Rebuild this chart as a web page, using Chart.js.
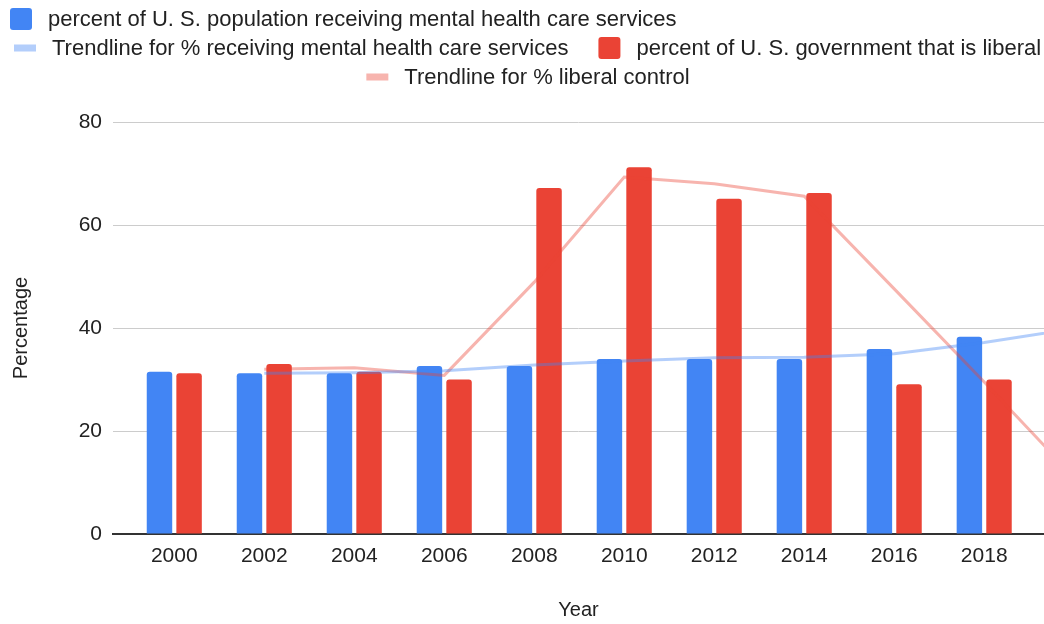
<!DOCTYPE html>
<html>
<head>
<meta charset="utf-8">
<script src="https://cdn.jsdelivr.net/npm/chart.js@4.4.1/dist/chart.umd.min.js"></script>
<style>
  html, body { margin: 0; padding: 0; background: #fff; overflow: hidden; }
  #wrap { width: 1044px; height: 624px; position: relative; }
</style>
</head>
<body>
<div id="wrap"><canvas id="chart"></canvas></div>
<script>
// values
const years = [2000, 2002, 2004, 2006, 2008, 2010, 2012, 2014, 2016, 2018];
const mentalHealthPct = [31.5, 31.2, 31.2, 32.6, 32.6, 34.0, 34.0, 34.0, 35.9, 38.3];
const liberalPct = [31.2, 33.0, 31.5, 30.0, 67.2, 71.2, 65.1, 66.2, 29.1, 30.0];

// trendlines run one step past the last year (cut off at the right edge)
const trendYears = [2002, 2004, 2006, 2008, 2010, 2012, 2014, 2016, 2018, 2020];
const mentalHealthTrend = [31.2, 31.3, 31.7, 32.8, 33.6, 34.2, 34.3, 35.0, 37.2, 39.9];
const liberalTrend = [32.0, 32.3, 30.8, 48.9, 69.3, 68.0, 65.6, 47.6, 29.5, 11.0];

const yTicks = [0, 20, 40, 60, 80];

const FONT = '"Liberation Sans", Arial, sans-serif';
Chart.defaults.font.family = FONT;
Chart.defaults.font.size = 20;
Chart.defaults.color = '#222';

const pts = (xs, ys) => xs.map((x, i) => ({ x: x, y: ys[i] }));

// Google-Sheets style legend: wrapped rows, last row centred
const legendRows = [[0], [1, 2], [3]];
const legendRowY = [19, 48, 77];
const legendRowX = [10, 14, null];

const sheetLegend = {
  id: 'sheetLegend',
  afterDraw(chart) {
    const ctx = chart.ctx;
    const sets = chart.data.datasets;
    ctx.save();
    ctx.font = '22px ' + FONT;
    ctx.textBaseline = 'middle';
    legendRows.forEach((row, r) => {
      const widths = row.map(i => 38 + ctx.measureText(sets[i].label).width);
      const total = widths.reduce((a, b) => a + b, 0) + 30 * (row.length - 1);
      let x = legendRowX[r] !== null ? legendRowX[r] : (chart.width - total) / 2 + 6;
      const y = legendRowY[r];
      row.forEach((i, k) => {
        const ds = sets[i];
        if (ds.type === 'line') {
          ctx.fillStyle = ds.borderColor;
          ctx.fillRect(x, y - 3.5, 22, 7);
        } else {
          ctx.fillStyle = ds.backgroundColor;
          ctx.beginPath();
          ctx.roundRect(x, y - 11, 22, 22, 3);
          ctx.fill();
        }
        ctx.fillStyle = '#222';
        ctx.fillText(ds.label, x + 38, y + 1);
        x += widths[k] + 30;
      });
    });
    ctx.restore();
  }
};

new Chart(document.getElementById('chart'), {
  type: 'bar',
  data: {
    datasets: [
      {
        type: 'bar',
        label: 'percent of U. S. population receiving mental health care services',
        data: pts(years, mentalHealthPct),
        backgroundColor: '#4285F4',
        borderRadius: 3,
        categoryPercentage: 0.658,
        barPercentage: 0.86,
        order: 1
      },
      {
        type: 'line',
        label: 'Trendline for % receiving mental health care services',
        data: pts(trendYears, mentalHealthTrend),
        borderColor: 'rgba(66, 133, 244, 0.4)',
        borderWidth: 3,
        pointRadius: 0,
        tension: 0,
        order: 0
      },
      {
        type: 'bar',
        label: 'percent of U. S. government that is liberal',
        data: pts(years, liberalPct),
        backgroundColor: '#EA4335',
        borderRadius: 3,
        categoryPercentage: 0.658,
        barPercentage: 0.86,
        order: 1
      },
      {
        type: 'line',
        label: 'Trendline for % liberal control',
        data: pts(trendYears, liberalTrend),
        borderColor: 'rgba(234, 67, 53, 0.4)',
        borderWidth: 3,
        pointRadius: 0,
        tension: 0,
        order: 0
      }
    ]
  },
  options: {
    responsive: true,
    maintainAspectRatio: false,
    animation: false,
    layout: { padding: { top: 122, left: 0, right: 0, bottom: 0 } },
    plugins: {
      legend: { display: false },
      tooltip: { enabled: false }
    },
    scales: {
      x: {
        type: 'linear',
        bounds: 'data',
        offset: false,
        min: 1998.638,
        max: 2019.329,
        afterBuildTicks: s => { s.ticks = years.map(v => ({ value: v })); },
        afterFit: s => { s.height = 90; },
        ticks: { callback: v => String(v), padding: 10, maxRotation: 0, autoSkip: false, font: { size: 21 } },
        grid: { display: false, drawTicks: false, offset: false },
        border: { display: true, color: '#333', width: 2 },
        title: { display: true, text: 'Year', padding: { top: 0, bottom: 2 } }
      },
      y: {
        min: 0,
        max: 80,
        afterBuildTicks: s => { s.ticks = yTicks.map(v => ({ value: v })); },
        afterFit: s => { s.width = 113; },
        ticks: { padding: 11, font: { size: 21 } },
        grid: { color: '#cccccc', lineWidth: 1, drawTicks: false },
        border: { display: false },
        title: { display: true, text: 'Percentage', padding: { top: 9, bottom: 0 } }
      }
    }
  },
  plugins: [sheetLegend]
});
</script>
</body>
</html>
